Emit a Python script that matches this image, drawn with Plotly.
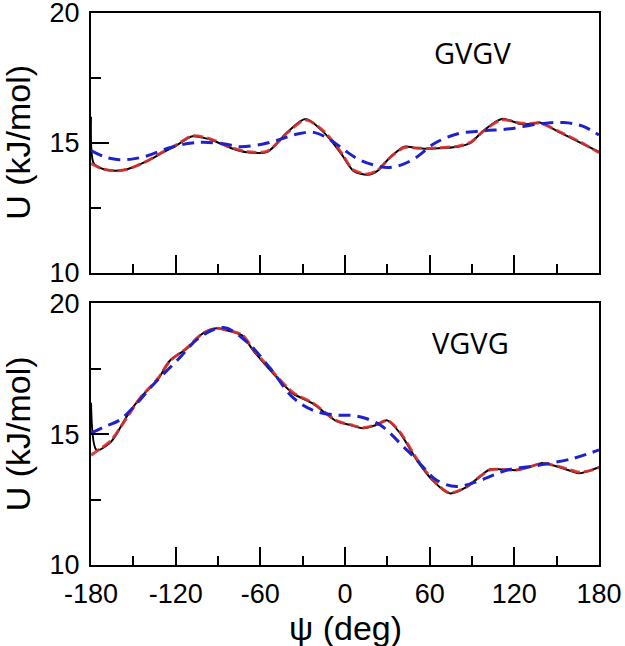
import plotly.graph_objects as go

# ---------------- data ----------------
# GVGV (top panel)
gvgv_black_psi = [-180, -178, -172, -163, -155, -140, -130, -120, -108, -94, -81, -69, -55, -41, -28, -15, -3, 6, 16, 23, 32, 42, 50, 58, 70, 80, 89, 98, 111, 124, 131, 138, 150, 167, 180]
gvgv_black_u = [16.0, 14.2, 14.0, 13.92, 13.97, 14.3, 14.6, 14.88, 15.25, 15.1, 14.8, 14.63, 14.65, 15.4, 15.92, 15.4, 14.6, 13.92, 13.77, 13.92, 14.44, 14.85, 14.8, 14.77, 14.8, 14.85, 15.0, 15.46, 15.92, 15.73, 15.72, 15.78, 15.46, 15.0, 14.65]

gvgv_red_psi = [-180, -172, -163, -155, -140, -130, -120, -108, -94, -81, -69, -55, -41, -28, -15, -3, 6, 16, 23, 32, 42, 50, 58, 70, 80, 89, 98, 111, 124, 131, 138, 150, 167, 180]
gvgv_red_u = [14.2, 14.0, 13.92, 13.97, 14.3, 14.62, 14.9, 15.27, 15.12, 14.82, 14.65, 14.68, 15.38, 15.88, 15.45, 14.65, 13.95, 13.8, 13.94, 14.44, 14.82, 14.8, 14.78, 14.82, 14.87, 15.02, 15.44, 15.88, 15.76, 15.74, 15.76, 15.48, 15.02, 14.62]

gvgv_blue_psi = [-180, -170, -160, -150, -140, -125, -110, -100, -85, -75, -58, -45, -33, -22, -10, 0, 10, 20, 30, 40, 50, 63, 80, 98, 117, 138, 155, 168, 180]
gvgv_blue_u = [14.7, 14.45, 14.35, 14.38, 14.5, 14.8, 14.98, 15.02, 14.95, 14.85, 14.95, 15.15, 15.35, 15.4, 15.1, 14.7, 14.35, 14.15, 14.05, 14.15, 14.42, 14.96, 15.35, 15.46, 15.54, 15.73, 15.78, 15.65, 15.3]

# VGVG (bottom panel)
vgvg_black_psi = [-180, -176, -166, -155, -145, -133, -124, -112, -101, -91, -84, -73, -65, -51, -37, -23, -6, 4, 13, 22, 30, 39, 51, 62, 74, 86, 96, 103, 112, 122, 131, 140, 152, 166, 173, 180]
vgvg_black_u = [16.2, 14.4, 14.7, 15.65, 16.4, 17.06, 17.82, 18.28, 18.85, 19.05, 18.97, 18.78, 18.2, 17.33, 16.56, 16.18, 15.5, 15.35, 15.23, 15.35, 15.53, 15.04, 14.0, 13.24, 12.74, 12.98, 13.4, 13.66, 13.65, 13.63, 13.75, 13.9, 13.74, 13.51, 13.6, 13.74]

vgvg_red_psi = [-180, -172, -166, -155, -145, -133, -124, -112, -101, -91, -84, -73, -65, -51, -37, -23, -6, 4, 13, 22, 30, 39, 51, 62, 74, 86, 96, 103, 112, 122, 131, 140, 152, 166, 173, 180]
vgvg_red_u = [14.2, 14.5, 14.75, 15.6, 16.4, 17.1, 17.8, 18.3, 18.85, 19.05, 18.98, 18.8, 18.25, 17.38, 16.6, 16.2, 15.52, 15.36, 15.25, 15.36, 15.52, 15.08, 14.05, 13.28, 12.76, 12.98, 13.4, 13.64, 13.65, 13.64, 13.76, 13.88, 13.76, 13.55, 13.6, 13.72]

vgvg_blue_psi = [-180, -170, -160, -150, -135, -119, -103, -86, -69, -53, -37, -23, -6, 5, 15, 25, 32, 40, 49, 57, 65, 79, 96, 115, 138, 162, 180]
vgvg_blue_u = [15.04, 15.3, 15.53, 16.03, 16.95, 17.82, 18.7, 19.08, 18.5, 17.52, 16.41, 15.92, 15.73, 15.72, 15.6, 15.35, 15.04, 14.6, 14.12, 13.65, 13.24, 13.0, 13.24, 13.63, 13.82, 14.08, 14.4]

x_ticks = [-180, -120, -60, 0, 60, 120, 180]
x_tick_text = ["-180", "-120", "-60", "0", "60", "120", "180"]
y_ticks = [10, 15, 20]
panel_labels = ["GVGV", "VGVG"]

# ---------------- figure ----------------
BLACK = "black"
RED = "rgba(215,50,50,0.9)"
BLUE = "#1f22c8"

fig = go.Figure()

def add_panel(xa, ya, bpsi, bu, rpsi, ru, lpsi, lu):
    fig.add_trace(go.Scatter(x=bpsi, y=bu, mode="lines", xaxis=xa, yaxis=ya,
                             line=dict(color=BLACK, width=2, shape="spline", smoothing=0.8),
                             showlegend=False))
    fig.add_trace(go.Scatter(x=rpsi, y=ru, mode="lines", xaxis=xa, yaxis=ya,
                             line=dict(color=RED, width=3, dash="10px,4px", shape="spline", smoothing=0.8),
                             showlegend=False))
    fig.add_trace(go.Scatter(x=lpsi, y=lu, mode="lines", xaxis=xa, yaxis=ya,
                             line=dict(color=BLUE, width=3, dash="12px,7px", shape="spline", smoothing=1.0),
                             showlegend=False))

add_panel("x", "y", gvgv_black_psi, gvgv_black_u, gvgv_red_psi, gvgv_red_u, gvgv_blue_psi, gvgv_blue_u)
add_panel("x2", "y2", vgvg_black_psi, vgvg_black_u, vgvg_red_psi, vgvg_red_u, vgvg_blue_psi, vgvg_blue_u)

tick_font = dict(family="Liberation Sans, Arial, sans-serif", size=27, color="black")

xcommon = dict(range=[-180, 180], tickvals=x_ticks, ticktext=x_tick_text,
               ticks="inside", ticklen=18, tickwidth=2, tickcolor="black",
               minor=dict(tickvals=[-150, -90, -30, 30, 90, 150], ticks="inside", ticklen=9,
                          tickwidth=2, tickcolor="black", showgrid=False),
               showline=True, linewidth=2, linecolor="black", mirror=True,
               showgrid=False, zeroline=False, tickfont=tick_font, automargin=False,
               ticklabeloverflow="allow")
ycommon = dict(range=[10, 20], tickvals=y_ticks,
               ticks="inside", ticklen=18, tickwidth=2, tickcolor="black",
               minor=dict(tickvals=[12.5, 17.5], ticks="inside", ticklen=10,
                          tickwidth=2, tickcolor="black", showgrid=False),
               showline=True, linewidth=2, linecolor="black", mirror=True,
               showgrid=False, zeroline=False, tickfont=tick_font, ticklabelstandoff=4,
               automargin=False, ticklabeloverflow="allow")

top_dom = [0.5298, 1.0]
bot_dom = [0.0, 0.4738]

fig.update_layout(
    width=625, height=646,
    margin=dict(l=91, r=26, t=13, b=81, autoexpand=False),
    plot_bgcolor="white", paper_bgcolor="white",
    xaxis=dict(**xcommon, domain=[0, 1], anchor="y", showticklabels=False),
    yaxis=dict(**ycommon, domain=top_dom, anchor="x"),
    xaxis2=dict(**xcommon, domain=[0, 1], anchor="y2", showticklabels=True, ticklabelstandoff=4),
    yaxis2=dict(**ycommon, domain=bot_dom, anchor="x2"),
)

label_font = dict(family="Open Sans, Noto Sans, sans-serif", size=29, color="black")
title_font = dict(family="Liberation Sans, Arial, sans-serif", size=34, color="black")

fig.add_annotation(text=panel_labels[0], xref="paper", yref="paper", x=0.75, y=0.9277,
                   xanchor="center", yanchor="middle", showarrow=False, font=label_font)
fig.add_annotation(text=panel_labels[1], xref="paper", yref="paper", x=0.748, y=0.4033,
                   xanchor="center", yanchor="middle", showarrow=False, font=label_font)

for yc in [0.765, 0.2369]:
    fig.add_annotation(text="U (kJ/mol)", xref="paper", yref="paper", x=-0.1437, y=yc,
                       xanchor="center", yanchor="middle", textangle=-90, showarrow=False,
                       font=title_font)

fig.add_annotation(text="ψ (deg)", xref="paper", yref="paper", x=0.5, y=-0.114,
                   xanchor="center", yanchor="middle", showarrow=False, font=title_font)

fig.write_html("out.html", config={"displayModeBar": False},
               post_script="document.body.style.margin='0';document.body.style.overflow='hidden';")
